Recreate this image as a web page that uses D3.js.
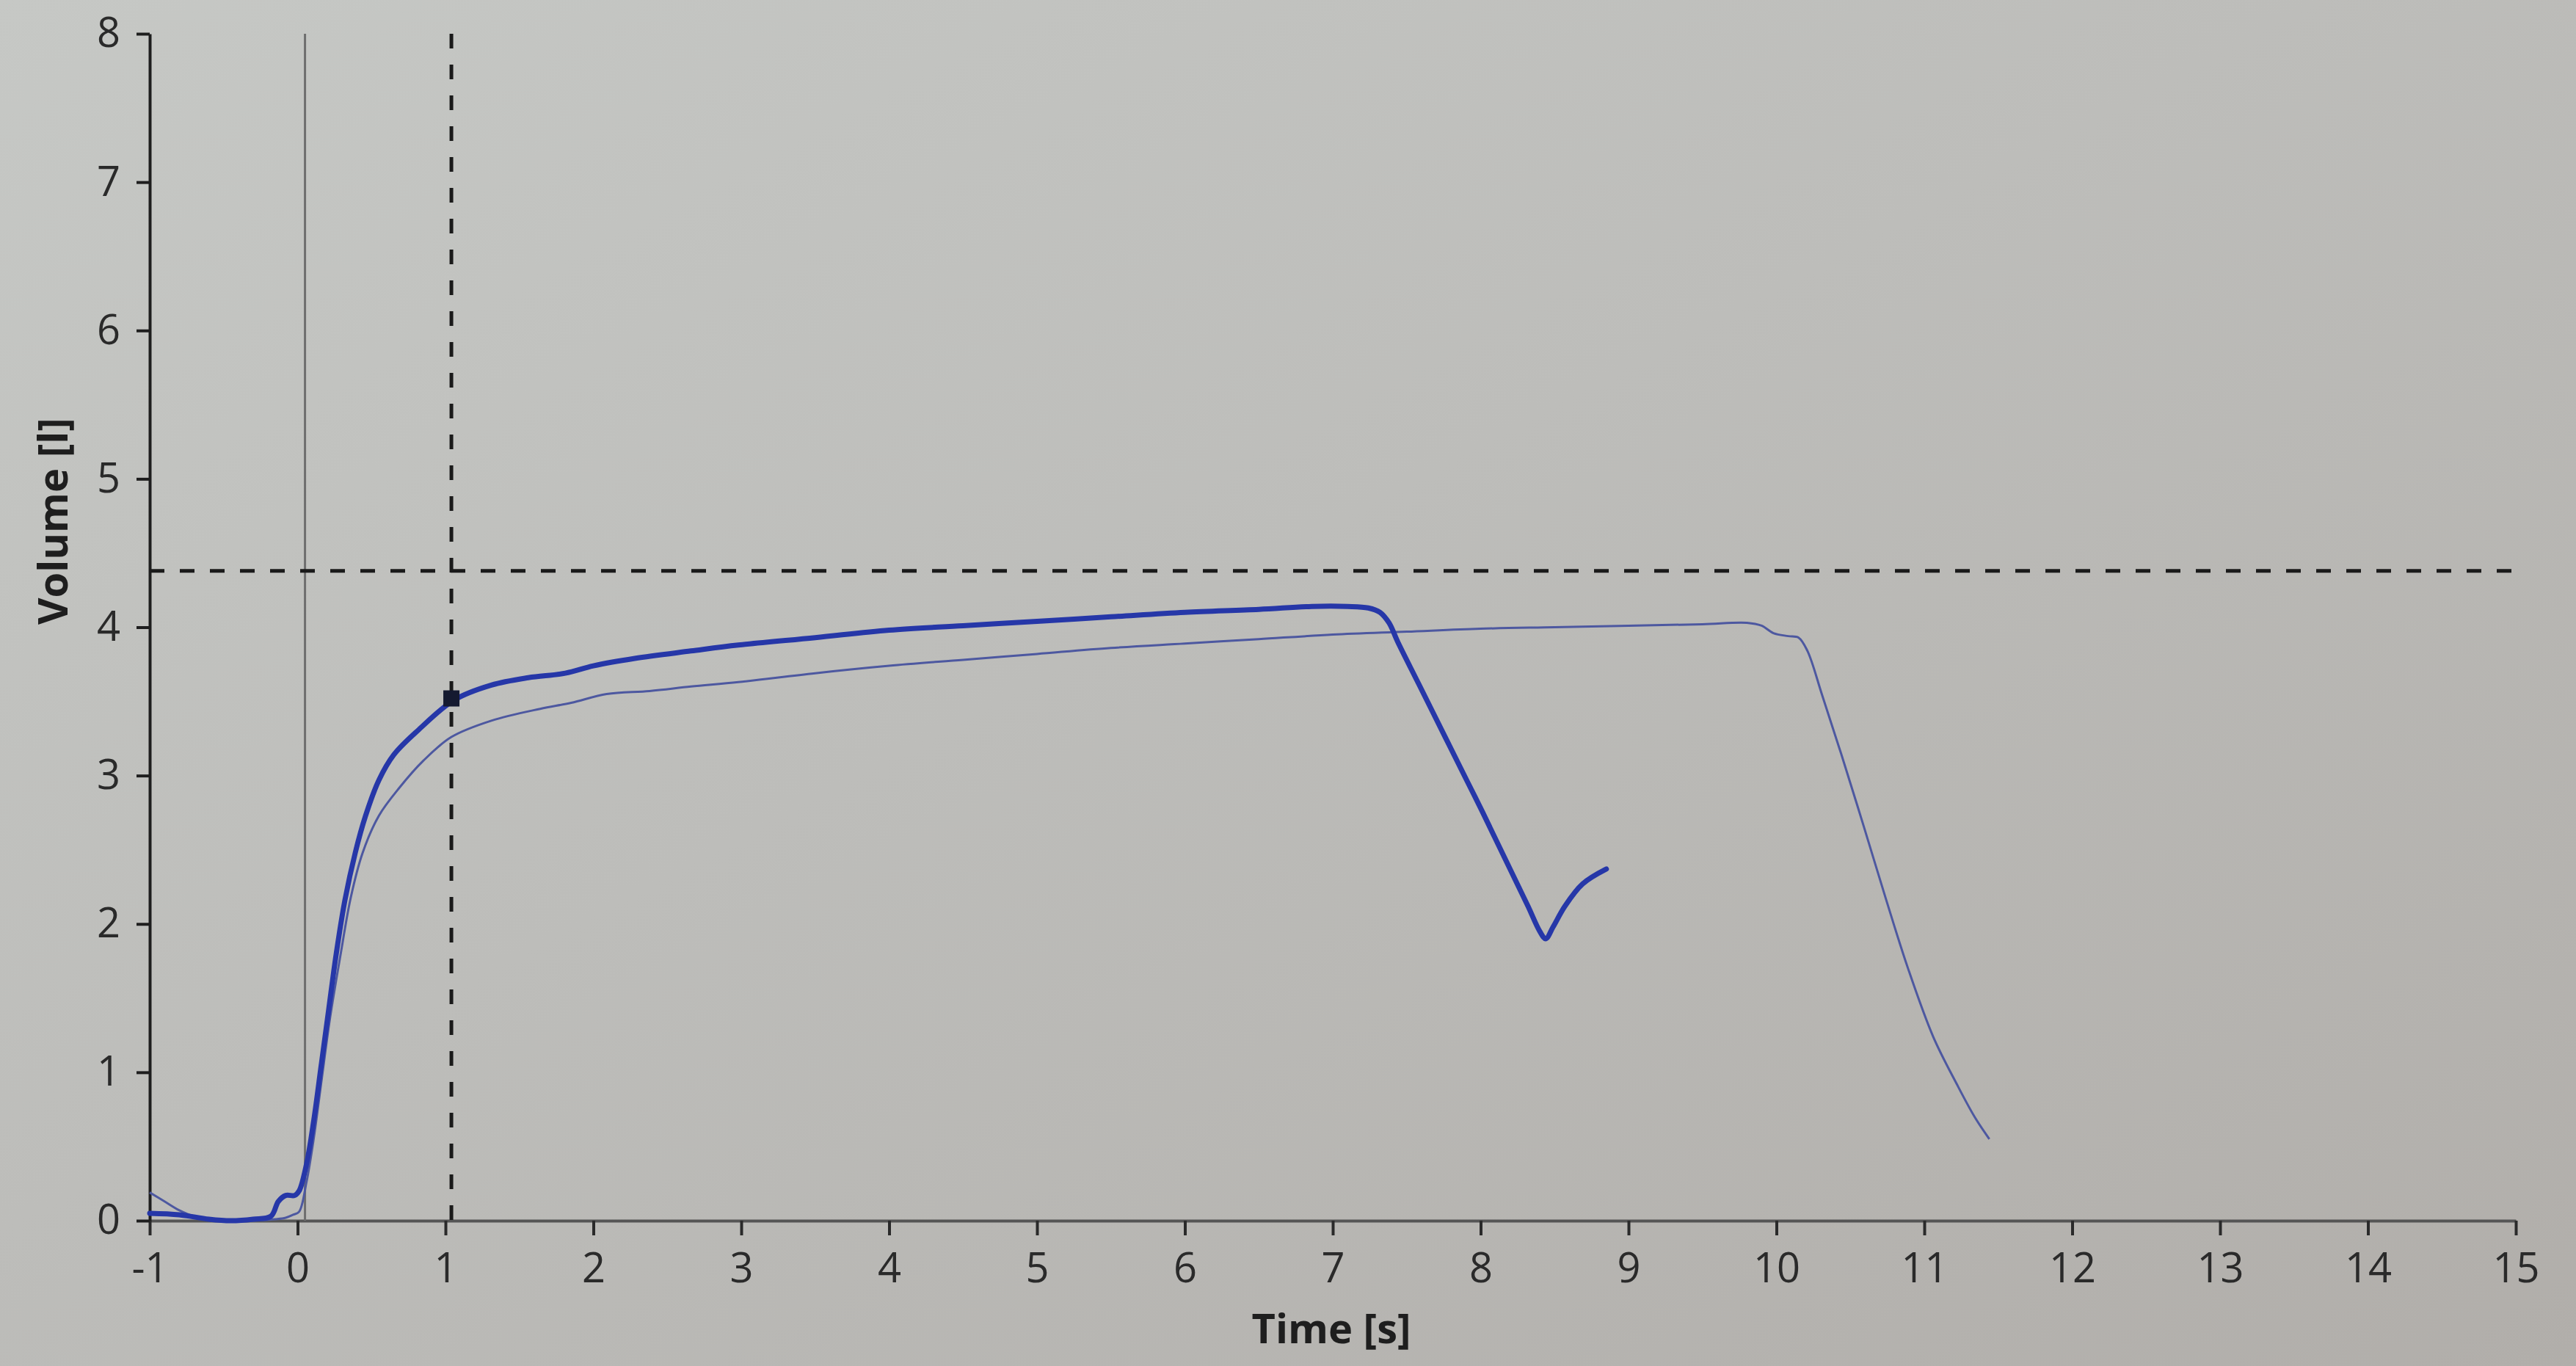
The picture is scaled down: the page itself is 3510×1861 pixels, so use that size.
<!DOCTYPE html>
<html>
<head>
<meta charset="utf-8">
<script src="https://cdn.jsdelivr.net/npm/d3@7"></script>
<style>
  html, body { margin: 0; padding: 0; background: #bdbdba; }
  svg { display: block; font-family: "Open Sans", "DejaVu Sans", sans-serif; }
</style>
</head>
<body>
<div id="chart"></div>
<script>
// volume-time curves
const trial1Time = [-1, -0.8, -0.6, -0.45, -0.3, -0.18, -0.13, -0.08, -0.02, 0.01, 0.06, 0.11, 0.16, 0.21, 0.26, 0.32, 0.39, 0.46, 0.55, 0.65, 0.82, 1.06, 1.31, 1.56, 1.81, 2.0, 2.28, 2.66, 2.98, 3.5, 4, 4.5, 5, 5.5, 6, 6.5, 6.86, 7.1, 7.24, 7.32, 7.38, 7.44, 7.58, 7.76, 7.91, 8.01, 8.16, 8.32, 8.40, 8.44, 8.49, 8.57, 8.69, 8.85];
const trial1Volume = [0.05, 0.04, 0.01, 0.0, 0.01, 0.03, 0.13, 0.17, 0.17, 0.2, 0.38, 0.68, 1.05, 1.42, 1.79, 2.16, 2.48, 2.73, 2.97, 3.14, 3.31, 3.51, 3.61, 3.66, 3.69, 3.74, 3.79, 3.84, 3.88, 3.93, 3.98, 4.01, 4.04, 4.07, 4.10, 4.12, 4.14, 4.14, 4.13, 4.10, 4.03, 3.90, 3.62, 3.26, 2.96, 2.76, 2.45, 2.12, 1.95, 1.90, 1.98, 2.12, 2.27, 2.37];

const trial2Time = [-1, -0.9, -0.8, -0.7, -0.5, -0.3, -0.15, -0.08, -0.03, 0.01, 0.06, 0.11, 0.16, 0.22, 0.29, 0.36, 0.44, 0.55, 0.69, 0.85, 1.04, 1.31, 1.64, 1.85, 2.09, 2.38, 2.66, 2.98, 3.5, 4, 4.5, 5, 5.5, 6, 6.5, 7, 7.5, 8, 8.5, 9, 9.5, 9.8, 9.9, 9.98, 10.08, 10.15, 10.21, 10.31, 10.44, 10.59, 10.74, 10.89, 11.06, 11.22, 11.34, 11.44];
const trial2Volume = [0.19, 0.13, 0.07, 0.03, 0.0, 0.0, 0.01, 0.02, 0.04, 0.06, 0.26, 0.56, 0.93, 1.37, 1.79, 2.18, 2.48, 2.73, 2.92, 3.10, 3.26, 3.37, 3.45, 3.49, 3.55, 3.57, 3.60, 3.63, 3.69, 3.74, 3.78, 3.82, 3.86, 3.89, 3.92, 3.95, 3.97, 3.99, 4.0, 4.01, 4.02, 4.03, 4.01, 3.96, 3.94, 3.93, 3.84, 3.54, 3.14, 2.66, 2.17, 1.70, 1.24, 0.92, 0.70, 0.55];

// reference lines and marker
const startLineTime = 0.05;
const markerTime = 1.04;
const markerVolume = 3.52;
const refVolume = 4.38;

const xTicks = d3.range(-1, 16, 1);
const yTicks = d3.range(0, 9, 1);

const width = 3510;
const height = 1861;
const fontFamily = '"Open Sans", "DejaVu Sans", sans-serif';

const svg = d3.select("#chart")
  .append("svg")
  .attr("width", width)
  .attr("height", height);

// paper background
const grad = svg.append("defs").append("linearGradient")
  .attr("id", "paper")
  .attr("x1", "0%").attr("y1", "0%")
  .attr("x2", "100%").attr("y2", "100%");
grad.append("stop").attr("offset", "0%").attr("stop-color", "#c6c8c5");
grad.append("stop").attr("offset", "45%").attr("stop-color", "#bdbdba");
grad.append("stop").attr("offset", "100%").attr("stop-color", "#b1aeaa");

svg.append("rect")
  .attr("width", width)
  .attr("height", height)
  .attr("fill", "url(#paper)");

const x = d3.scaleLinear().domain([-1, 15]).range([204, 3428]);
const y = d3.scaleLinear().domain([0, 8]).range([1663, 46]);

// axes
const xAxis = svg.append("g")
  .attr("transform", `translate(0, ${y(0)})`)
  .call(d3.axisBottom(x).tickValues(xTicks).tickFormat(d => String(d))
    .tickSize(20).tickSizeOuter(0).tickPadding(24));
xAxis.attr("font-family", fontFamily).attr("font-size", 56);
xAxis.select(".domain").attr("stroke", "#555").attr("stroke-width", 4);
xAxis.selectAll(".tick line").attr("stroke", "#2a2a2a").attr("stroke-width", 4);
xAxis.selectAll(".tick text").attr("fill", "#2a2a2a");

const yAxis = svg.append("g")
  .attr("transform", `translate(${x(-1)}, 0)`)
  .call(d3.axisLeft(y).tickValues(yTicks).tickFormat(d => String(d))
    .tickSize(18).tickSizeOuter(0).tickPadding(22));
yAxis.attr("font-family", fontFamily).attr("font-size", 56);
yAxis.select(".domain").attr("stroke", "#1e1e1e").attr("stroke-width", 4);
yAxis.selectAll(".tick line").attr("stroke", "#1e1e1e").attr("stroke-width", 4);
yAxis.selectAll(".tick text").attr("fill", "#2a2a2a");

// axis titles
svg.append("text")
  .attr("x", 1814)
  .attr("y", 1830)
  .attr("text-anchor", "middle")
  .attr("font-size", 56)
  .attr("font-weight", "bold")
  .attr("fill", "#1e1e1e")
  .text("Time [s]");

svg.append("text")
  .attr("transform", "translate(92, 710) rotate(-90)")
  .attr("text-anchor", "middle")
  .attr("font-size", 56)
  .attr("font-weight", "bold")
  .attr("fill", "#1e1e1e")
  .text("Volume [l]");

// start of test: thin grey line
svg.append("line")
  .attr("x1", x(startLineTime)).attr("x2", x(startLineTime))
  .attr("y1", y(8)).attr("y2", y(0))
  .attr("stroke", "#6e6e6e")
  .attr("stroke-width", 3);

// dashed guides
svg.append("line")
  .attr("x1", x(markerTime)).attr("x2", x(markerTime))
  .attr("y1", y(8)).attr("y2", y(0) + 18)
  .attr("stroke", "#1a1a1a")
  .attr("stroke-width", 5)
  .attr("stroke-dasharray", "20 22");

svg.append("line")
  .attr("x1", x(-1)).attr("x2", x(15))
  .attr("y1", y(refVolume)).attr("y2", y(refVolume))
  .attr("stroke", "#1a1a1a")
  .attr("stroke-width", 5)
  .attr("stroke-dasharray", "20 21");

const line = d3.line()
  .x(d => x(d[0]))
  .y(d => y(d[1]))
  .curve(d3.curveCatmullRom.alpha(0.5));

const trial2 = trial2Time.map((t, i) => [t, trial2Volume[i]]);
const trial1 = trial1Time.map((t, i) => [t, trial1Volume[i]]);

svg.append("path")
  .datum(trial2)
  .attr("d", line)
  .attr("fill", "none")
  .attr("stroke", "#4d58a0")
  .attr("stroke-width", 3)
  .attr("stroke-linejoin", "round");

svg.append("path")
  .datum(trial1)
  .attr("d", line)
  .attr("fill", "none")
  .attr("stroke", "#2637a8")
  .attr("stroke-width", 7)
  .attr("stroke-linejoin", "round")
  .attr("stroke-linecap", "round");

// marker at 1 s
svg.append("rect")
  .attr("x", x(markerTime) - 11)
  .attr("y", y(markerVolume) - 11)
  .attr("width", 22)
  .attr("height", 22)
  .attr("fill", "#151a30");
</script>
</body>
</html>
